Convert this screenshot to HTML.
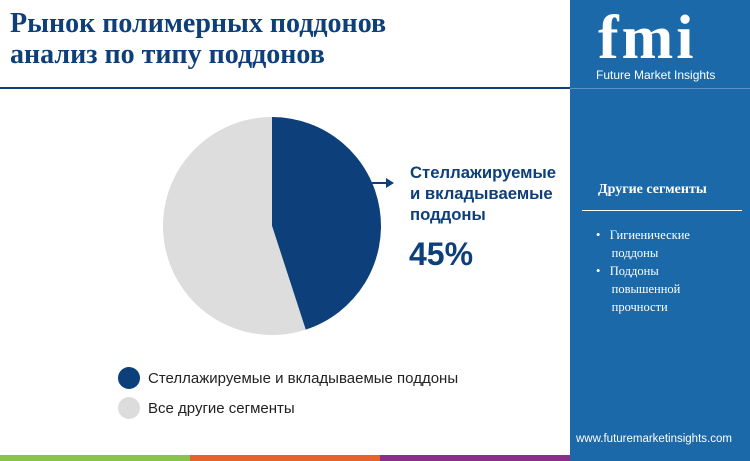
<!DOCTYPE html>
<html><head><meta charset="utf-8"><style>
body{margin:0;width:750px;height:461px;position:relative;overflow:hidden;background:#fff;font-family:"Liberation Sans",sans-serif}
.abs{position:absolute}
</style></head><body>
<div class="abs" style="left:10px;top:8px;font-family:'Liberation Serif',serif;font-weight:bold;font-size:28px;line-height:31px;color:#0d3f7a">Рынок полимерных поддонов<br>анализ по типу поддонов</div>
<div class="abs" style="left:0;top:87px;width:570px;height:2px;background:#0d3f7a"></div>
<div class="abs" style="left:570px;top:0;width:180px;height:461px;background:#1b69a8"></div>
<div class="abs" style="left:598px;top:10px;width:130px;font-family:'Liberation Serif',serif;font-weight:bold;font-size:62px;line-height:56px;color:#fff;letter-spacing:3px">fmi</div>
<div class="abs" style="left:596px;top:68px;font-size:12px;color:#fff">Future Market Insights</div>
<div class="abs" style="left:570px;top:88px;width:180px;height:1px;background:#5d94c4"></div>
<div class="abs" style="left:598px;top:182px;font-family:'Liberation Serif',serif;font-weight:bold;font-size:14px;color:#fff">Другие сегменты</div>
<div class="abs" style="left:582px;top:210px;width:160px;height:1px;background:#fff"></div>
<div class="abs" style="left:596px;top:226px;font-family:'Liberation Serif',serif;font-size:12.5px;line-height:18px;color:#fff">
<div>•&nbsp;&nbsp;&nbsp;Гигиенические<br>&nbsp;&nbsp;&nbsp;&nbsp;&nbsp;поддоны</div>
<div>•&nbsp;&nbsp;&nbsp;Поддоны<br>&nbsp;&nbsp;&nbsp;&nbsp;&nbsp;повышенной<br>&nbsp;&nbsp;&nbsp;&nbsp;&nbsp;прочности</div></div>
<div class="abs" style="left:576px;top:433px;font-size:11.5px;color:#fff">www.futuremarketinsights.com</div>
<div class="abs" style="left:0;top:455px;width:190px;height:6px;background:#8bc34a"></div>
<div class="abs" style="left:190px;top:455px;width:190px;height:6px;background:#e8622c"></div>
<div class="abs" style="left:380px;top:455px;width:190px;height:6px;background:#8a2e8a"></div>
<svg class="abs" style="left:0;top:0" width="570" height="455">
<g id="pie"></g>
<line x1="372" y1="183" x2="388" y2="183" stroke="#0d3f7a" stroke-width="2"/>
<polygon points="386,178 394,183 386,188" fill="#0d3f7a"/>
</svg>
<div class="abs" style="left:410px;top:162px;font-weight:bold;font-size:16.7px;line-height:21px;color:#0d3f7a">Стеллажируемые<br>и вкладываемые<br>поддоны</div>
<div class="abs" style="left:409px;top:236px;font-weight:bold;font-size:32px;color:#0d3f7a">45%</div>
<div class="abs" style="left:118px;top:366px;font-size:15px;color:#222">
<div style="height:24px;margin-bottom:6px;display:flex;align-items:center"><span style="width:22px;height:22px;border-radius:50%;background:#0d3f7a;margin-right:8px;display:inline-block"></span>Стеллажируемые и вкладываемые поддоны</div>
<div style="height:24px;display:flex;align-items:center"><span style="width:22px;height:22px;border-radius:50%;background:#dcdcdc;margin-right:8px;display:inline-block"></span>Все другие сегменты</div>
</div>
<script>
const categories=["Стеллажируемые и вкладываемые поддоны","Все другие сегменты"];
const values=[45,55];
const colors=["#0d3f7a","#dddddd"];
const g=document.getElementById('pie');
const cx=272,cy=226,r=109;
const total=values.reduce((a,b)=>a+b,0);
let a0=-Math.PI/2;
values.forEach((v,i)=>{
 const a1=a0+v/total*2*Math.PI;
 const large=(a1-a0)>Math.PI?1:0;
 const p=document.createElementNS('http://www.w3.org/2000/svg','path');
 p.setAttribute('d',`M${cx},${cy} L${cx+r*Math.cos(a0)},${cy+r*Math.sin(a0)} A${r},${r} 0 ${large} 1 ${cx+r*Math.cos(a1)},${cy+r*Math.sin(a1)} Z`);
 p.setAttribute('fill',colors[i]);
 
 
 g.appendChild(p);
 a0=a1;
});
</script>
</body></html>
